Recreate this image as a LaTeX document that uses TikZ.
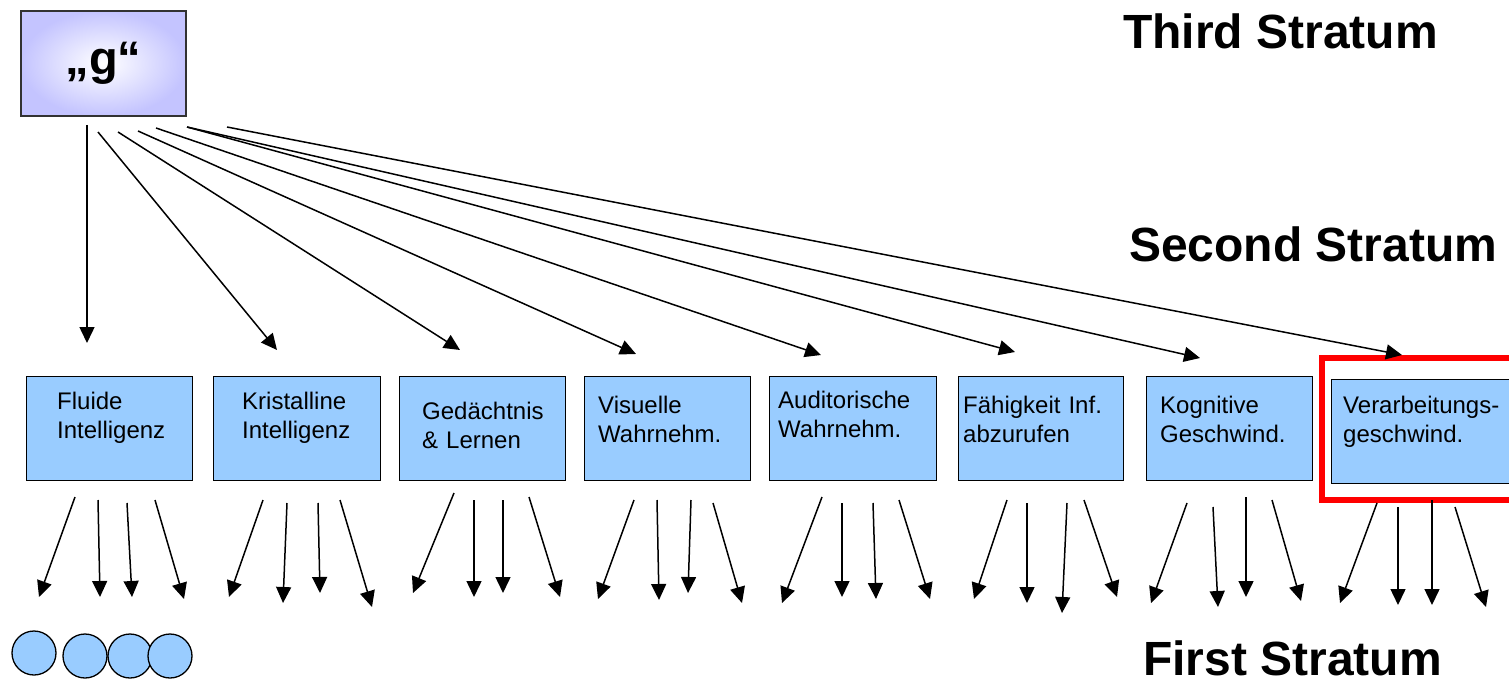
\documentclass[tikz,border=0pt]{standalone}
\usepackage{fontspec}
\setmainfont{Liberation Sans}
\usetikzlibrary{arrows.meta}
\definecolor{boxblue}{RGB}{153,204,255}
\definecolor{lav}{RGB}{196,196,255}
\definecolor{gborder}{RGB}{50,50,50}
\definecolor{hired}{RGB}{255,0,0}
\begin{document}
\begin{tikzpicture}[x=1pt,y=-1pt,
  box/.style={draw=black, line width=1.4pt, fill=boxblue, inner sep=0pt, anchor=north west},
  gbox/.style={draw=gborder, line width=1.2pt, inner color=white, outer color=lav, inner sep=0pt,
     minimum width=165pt, minimum height=105pt, font=\bfseries\fontsize{47}{56}\selectfont},
  lbl/.style={anchor=base west, inner sep=0pt, align=left, text width=170pt, font=\fontsize{24}{29}\selectfont},
  stratum/.style={anchor=base west, inner sep=0pt, font=\bfseries\fontsize{48}{58}\selectfont},
  arr/.style={line width=1.5pt, -{Triangle[length=16pt,width=15pt]}},
  fac/.style={circle, draw=black, line width=1.3pt, fill=boxblue, minimum size=44pt, inner sep=0pt},
  redframe/.style={draw=hired, line width=5.5pt}
]
\useasboundingbox (0,0) rectangle (1509,682);

% strata labels
\node[stratum] (t3) at (1123,49) {Third Stratum};
\node[stratum] (t2) at (1129,261) {Second Stratum};
\node[stratum] (t1) at (1143,675) {First Stratum};

% g box
\node[gbox] (g) at (103.5,63.5) {„g“};

% second stratum boxes
\node[box, minimum width=166pt, minimum height=104pt] (b1) at (26,376) {};
\node[box, minimum width=167pt, minimum height=104pt] (b2) at (213,376) {};
\node[box, minimum width=166pt, minimum height=104pt] (b3) at (399,376) {};
\node[box, minimum width=166pt, minimum height=104pt] (b4) at (584,376) {};
\node[box, minimum width=167pt, minimum height=104pt] (b5) at (769,376) {};
\node[box, minimum width=165pt, minimum height=104pt] (b6) at (958,376) {};
\node[box, minimum width=166pt, minimum height=104pt] (b7) at (1146,376) {};
\node[box, minimum width=190pt, minimum height=104pt] (b8) at (1331,379) {};
\node[redframe, anchor=north west, minimum width=215pt, minimum height=142pt, inner sep=0pt] (rf) at (1319,355) {};

\node[lbl] (l1) at (57,409) {Fluide\\Intelligenz};
\node[lbl] (l2) at (242,409) {Kristalline\\Intelligenz};
\node[lbl] (l3) at (422,419) {Gedächtnis\\\& Lernen};
\node[lbl] (l4) at (598,413) {Visuelle\\Wahrnehm.};
\node[lbl] (l5) at (778,408) {Auditorische\\Wahrnehm.};
\node[lbl] (l6) at (963,413) {Fähigkeit Inf.\\abzurufen};
\node[lbl] (l7) at (1160,413) {Kognitive\\Geschwind.};
\node[lbl] (l8) at (1343,413) {Verarbeitungs-\\geschwind.};

% arrows from g
\coordinate (s1) at (87,125);
\coordinate (s2) at (98,132);
\coordinate (s3) at (118,132);
\coordinate (s4) at (138,131);
\coordinate (s5) at (156,128);
\coordinate (s6) at (187,127);
\coordinate (s7) at (227,127);
\coordinate (e1) at (87,343);
\coordinate (e2) at (277,350);
\coordinate (e3) at (460,350);
\coordinate (e4) at (636,354);
\coordinate (e5) at (821,355);
\coordinate (e6) at (1015,352);
\coordinate (e7) at (1200,358);
\coordinate (e8) at (1402,355);
\draw[arr] (s1) -- (e1);
\draw[arr] (s2) -- (e2);
\draw[arr] (s3) -- (e3);
\draw[arr] (s4) -- (e4);
\draw[arr] (s5) -- (e5);
\draw[arr] (s6) -- (e6);
\draw[arr] (s6) -- (e7);
\draw[arr] (s7) -- (e8);

% arrows to first stratum
\foreach \i/\ax/\ay/\bx/\by in {
  1/75/497/39/597, 2/98/500/100/597, 3/127/503/132/597, 4/155/500/184/599,
  5/263/500/229/597, 6/287/503/283/603, 7/318/503/320/593, 8/340/500/372/607,
  9/454/493/413/593, 10/474/500/474/597, 11/503/500/503/593, 12/529/497/560/597,
  13/634/500/598/599, 14/657/500/659/600, 15/691/500/688/593, 16/713/503/742/603,
  17/822/497/782/603, 18/842/503/842/597, 19/873/503/876/599, 20/899/500/930/599,
  21/1007/500/974/599, 22/1027/503/1027/603, 23/1067/503/1062/613, 24/1084/500/1117/597,
  25/1187/503/1151/603, 26/1213/507/1218/607, 27/1246/497/1246/597, 28/1272/500/1301/601,
  29/1377/503/1340/603, 30/1398/507/1398/605, 31/1432/500/1432/605, 32/1455/507/1486/607}{
  \coordinate (p\i) at (\ax,\ay);
  \coordinate (q\i) at (\bx,\by);
  \draw[arr] (p\i) -- (q\i);
}

% first stratum factors
\node[fac] (c1) at (34,653) {};
\node[fac] (c2) at (85,656) {};
\node[fac] (c3) at (130,656) {};
\node[fac] (c4) at (170,656) {};
\end{tikzpicture}
\end{document}
